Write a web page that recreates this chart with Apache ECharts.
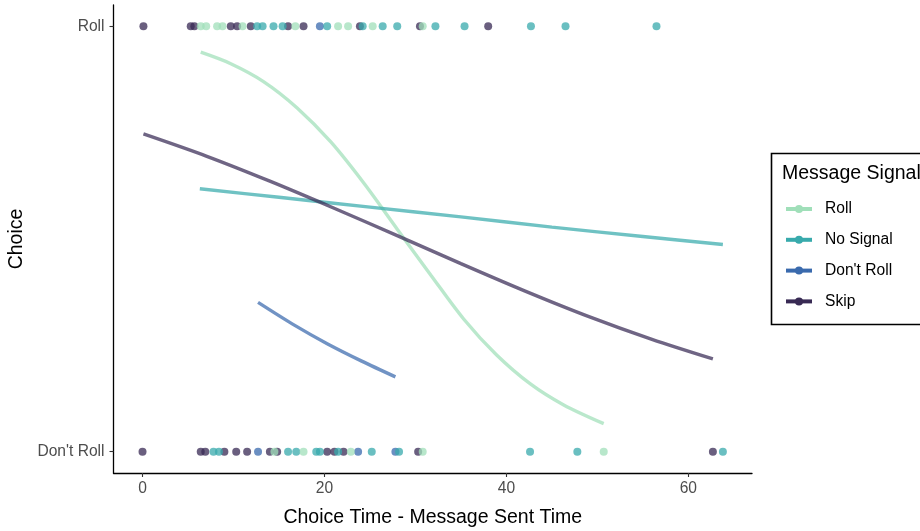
<!DOCTYPE html>
<html><head><meta charset="utf-8">
<script src="https://cdn.jsdelivr.net/npm/echarts@6/dist/echarts.min.js"></script>
<style>html,body{margin:0;padding:0;background:#fff}#c{width:920px;height:531px}</style>
</head><body><div id="c"></div>
<script>
// ---- data ----
const groups = ["Roll", "No Signal", "Don't Roll", "Skip"];
const xTicks = [0, 20, 40, 60];
const yTicks = [0, 1];
const yTickLabels = ["Don't Roll", "Roll"];

// choice times of observations whose Choice = Roll (y = 1)
const choseRoll_Roll     = [6.4, 7.0, 8.2, 8.8, 11.0, 16.8, 21.5, 22.6, 25.3, 30.8];
const choseRoll_NoSignal = [12.6, 13.2, 14.4, 15.4, 20.3, 24.2, 26.4, 28.0, 32.2, 35.4, 42.7, 46.5, 56.5];
const choseRoll_DontRoll = [19.5];
const choseRoll_Skip     = [0.1, 5.3, 5.7, 9.7, 10.4, 11.9, 16.0, 17.7, 23.9, 30.5, 38.0];

// choice times of observations whose Choice = Don't Roll (y = 0)
const choseDont_Roll     = [14.5, 17.7, 22.9, 30.8, 50.7];
const choseDont_NoSignal = [7.8, 8.4, 16.0, 16.9, 19.1, 19.5, 21.5, 25.2, 28.2, 42.6, 47.8, 63.8];
const choseDont_DontRoll = [12.7, 23.7, 27.8];
const choseDont_Skip     = [0, 6.4, 6.9, 9.0, 10.3, 11.5, 14.0, 14.8, 20.3, 21.1, 22.1, 30.3, 62.7];

// fitted curves: [x, P(Roll)]
const fitRoll = [[6.4,0.939],[9.7,0.912],[13.3,0.870],[17.0,0.808],[20.7,0.728],[24.3,0.632],[28.0,0.523],[31.7,0.415],[35.3,0.312],[38.9,0.228],[42.6,0.160],[46.3,0.110],[50.7,0.066]];
const fitNoSignal = [[6.3,0.618],[15,0.598],[25,0.575],[35,0.552],[45,0.528],[55,0.506],[63.8,0.487]];
const fitDontRoll = [[12.7,0.351],[16.5,0.300],[20.3,0.254],[24.1,0.213],[27.8,0.176]];
const fitSkip = [[0.1,0.747],[7,0.695],[14,0.636],[21,0.573],[28,0.508],[35,0.442],[42,0.378],[49,0.318],[56,0.264],[62.7,0.218]];

// ---- build ----
const colorMap = {"Roll":"#A0DFB9","No Signal":"#38AAAC","Don't Roll":"#3A6AAD","Skip":"#382A54"};
const fits = {"Roll":fitRoll,"No Signal":fitNoSignal,"Don't Roll":fitDontRoll,"Skip":fitSkip};
const ptsRoll = {"Roll":choseRoll_Roll,"No Signal":choseRoll_NoSignal,"Don't Roll":choseRoll_DontRoll,"Skip":choseRoll_Skip};
const ptsDont = {"Roll":choseDont_Roll,"No Signal":choseDont_NoSignal,"Don't Roll":choseDont_DontRoll,"Skip":choseDont_Skip};

const FONT = "Liberation Sans, Arial, Helvetica, sans-serif";
const series = [];
groups.forEach(g => {
  series.push({
    name: g, type: 'line', data: fits[g], smooth: 0.3,
    showSymbol: false, symbol: 'circle', symbolSize: 7,
    itemStyle: {color: colorMap[g]},
    lineStyle: {width: 3.4, opacity: 0.72, color: colorMap[g]},
    emphasis: {disabled: true}, silent: true, z: 2
  });
});
groups.slice().reverse().forEach(g => {
  const data = ptsRoll[g].map(x => [x, 1]).concat(ptsDont[g].map(x => [x, 0]));
  series.push({
    name: g, type: 'scatter', data: data, symbolSize: 8,
    itemStyle: {color: colorMap[g], opacity: 0.75},
    emphasis: {disabled: true}, silent: true, z: 3
  });
});

const chart = echarts.init(document.getElementById('c'), null, {renderer: 'canvas'});
chart.setOption({
  animation: false,
  backgroundColor: '#fff',
  textStyle: {fontFamily: FONT},
  grid: {left: 113.5, right: 168, top: 5, bottom: 58, containLabel: false, outerBoundsMode: 'none'},
  title: {text: 'Message Signal', left: 782, top: 164, padding: 0,
    textStyle: {fontFamily: FONT, fontSize: 19.5, fontWeight: 'normal', color: '#000'}},
  graphic: [{type: 'rect', shape: {x: 771.5, y: 153.5, width: 200, height: 171},
    style: {fill: 'none', stroke: '#000', lineWidth: 1.6}, silent: true}],
  legend: {
    data: groups, orient: 'vertical', left: 784, top: 201, padding: 0,
    itemWidth: 26, itemHeight: 10, itemGap: 14.8,
    selectedMode: false,
    lineStyle: {opacity: 1, width: 4},
    itemStyle: {opacity: 1},
    textStyle: {fontFamily: FONT, fontSize: 15.6, lineHeight: 16, color: '#000', padding: [0, 0, 0, 8]}
  },
  xAxis: {
    type: 'value', min: -3.19, max: 67,
    name: 'Choice Time - Message Sent Time', nameLocation: 'middle', nameGap: 35,
    nameTextStyle: {fontFamily: FONT, fontSize: 19.5, color: '#000'},
    splitLine: {show: false},
    axisLine: {show: true, onZero: false, lineStyle: {color: '#000', width: 1.3}},
    axisTick: {show: true, length: 4, customValues: xTicks, lineStyle: {color: '#333', width: 1.1}},
    axisLabel: {customValues: xTicks, margin: 8, fontFamily: FONT, fontSize: 15.6, color: '#4d4d4d'}
  },
  yAxis: {
    type: 'value', min: -0.05, max: 1.05,
    name: 'Choice', nameLocation: 'middle', nameGap: 80, nameRotate: 90,
    nameTextStyle: {fontFamily: FONT, fontSize: 19.5, color: '#000'},
    splitLine: {show: false},
    axisLine: {show: true, onZero: false, lineStyle: {color: '#000', width: 1.3}},
    axisTick: {show: true, length: 4, customValues: yTicks, lineStyle: {color: '#333', width: 1.1}},
    axisLabel: {customValues: yTicks, margin: 9, fontFamily: FONT, fontSize: 15.6, color: '#4d4d4d',
      formatter: v => yTickLabels[yTicks.indexOf(Math.round(v))]}
  },
  series: series
});
</script>
</body></html>
